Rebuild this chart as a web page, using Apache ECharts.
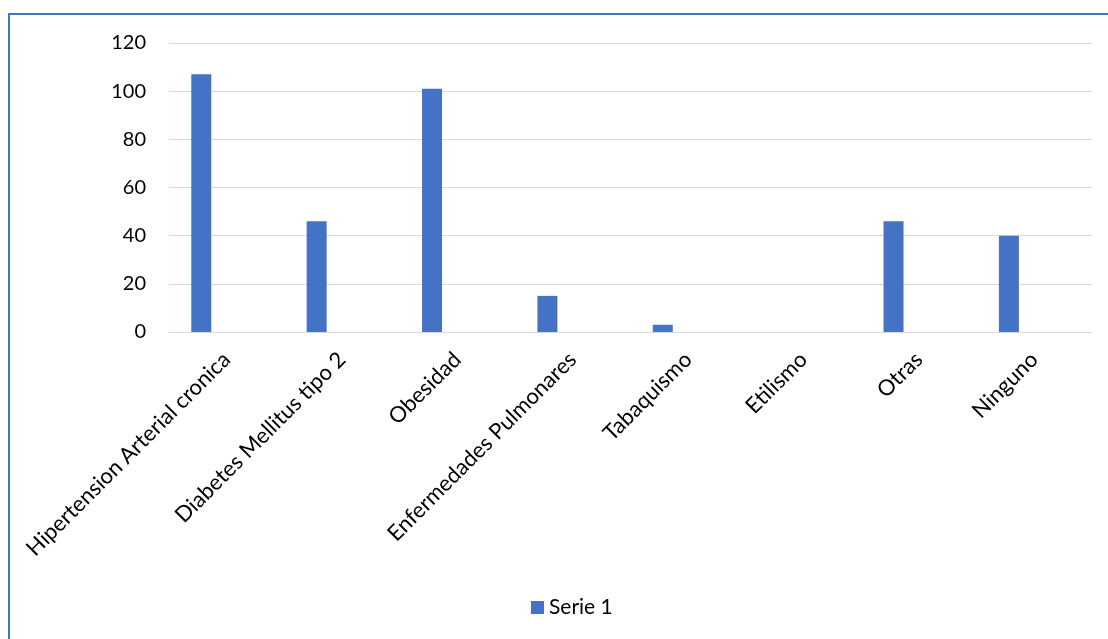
<!DOCTYPE html>
<html>
<head>
<meta charset="utf-8">
<script src="https://cdn.jsdelivr.net/npm/echarts@6/dist/echarts.min.js"></script>
<style>
  html, body { margin: 0; padding: 0; background: #ffffff; }
  #chart { width: 1108px; height: 639px; }
</style>
</head>
<body>
<div id="chart"></div>
<script>
// Comorbidity categories and counts
const categories = [
  'Hipertension Arterial cronica',
  'Diabetes Mellitus tipo 2',
  'Obesidad',
  'Enfermedades Pulmonares',
  'Tabaquismo',
  'Etilismo',
  'Otras',
  'Ninguno'
];
const serie1 = [107, 46, 101, 15, 3, 0, 46, 40];
// Empty companion series keep the clustered-column slots
const serie2 = [];
const serie3 = [];
const yTicks = { min: 0, max: 120, interval: 20 };

const FONT = 'Lato';
const chart = echarts.init(document.getElementById('chart'));
chart.setOption({
  backgroundColor: '#ffffff',
  animation: false,
  textStyle: { fontFamily: FONT },
  // chart-area frame: left and top edges
  graphic: [{
    type: 'polyline',
    shape: { points: [[9, 700], [9, 14], [1200, 14]] },
    style: { fill: 'none', stroke: '#4472C4', lineWidth: 2 },
    silent: true
  }],
  grid: { left: 169, right: 16, top: 43, bottom: 307, containLabel: false },
  legend: {
    data: ['Serie 1'],
    bottom: 16,
    left: 526,
    itemWidth: 13, itemHeight: 13,
    icon: 'rect',
    itemGap: 8,
    textStyle: { fontFamily: FONT, fontSize: 21, color: '#000' }
  },
  xAxis: {
    type: 'category',
    data: categories,
    axisLine: { show: true, lineStyle: { color: '#d9d9d9', width: 1 } },
    axisTick: { show: false },
    axisLabel: {
      interval: 0,
      rotate: 45,
      margin: 24,
      fontFamily: FONT,
      fontSize: 22,
      color: '#000'
    }
  },
  yAxis: {
    type: 'value',
    min: yTicks.min, max: yTicks.max, interval: yTicks.interval,
    axisLine: { show: false },
    axisTick: { show: false },
    splitLine: { lineStyle: { color: '#d9d9d9', width: 1 } },
    axisLabel: { margin: 23, fontFamily: FONT, fontSize: 20, color: '#000' }
  },
  series: [
    { name: 'Serie 1', type: 'bar', data: serie1, barWidth: 20, barGap: '27%',
      itemStyle: { color: '#4472C4' } },
    { name: 'Serie 2', type: 'bar', data: serie2, barWidth: 20, barGap: '27%',
      itemStyle: { color: '#ED7D31' } },
    { name: 'Serie 3', type: 'bar', data: serie3, barWidth: 20, barGap: '27%',
      itemStyle: { color: '#A5A5A5' } }
  ]
});
</script>
</body>
</html>
